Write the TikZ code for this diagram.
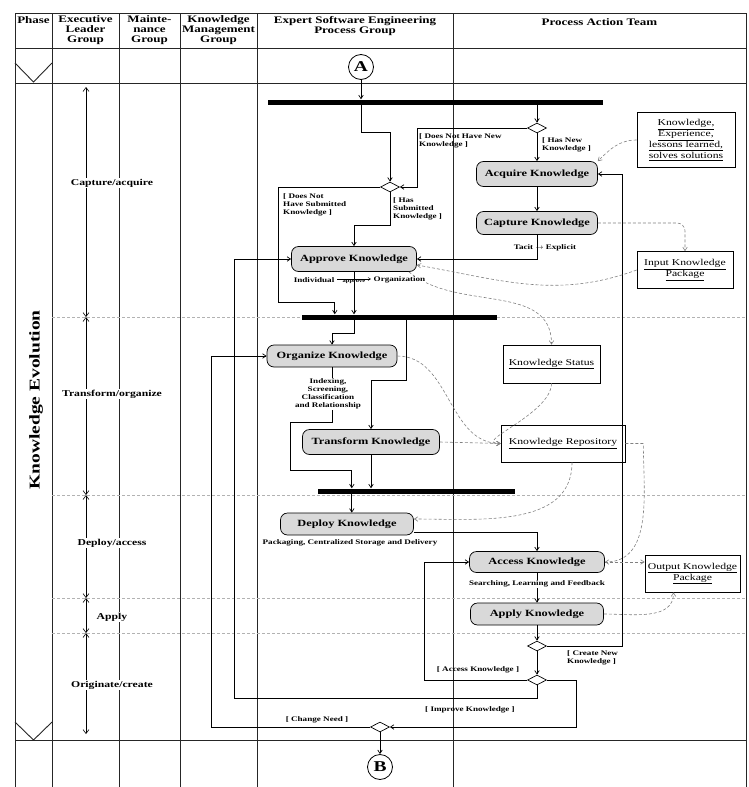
\documentclass[tikz,border=0pt]{standalone}
\usepackage{fontspec}
\setmainfont{Liberation Serif}[FakeStretch=1.3]
\usepackage{amsmath}
\usetikzlibrary{shapes.geometric, arrows.meta, positioning, calc}

\tikzset{
  lane/.style={line width=0.9pt, black!85},
  phaseline/.style={densely dashed, gray!60, line width=0.5pt},
  head/.style={font=\fontsize{10}{10}\selectfont\bfseries, align=center, anchor=north, inner sep=0pt},
  phase/.style={font=\fontsize{9}{10}\selectfont\bfseries, fill=white, inner sep=1pt},
  span/.style={{Straight Barb[length=4pt,width=6pt]}-{Straight Barb[length=4pt,width=6pt]}, line width=0.6pt},
  activity/.style={draw, rounded corners=7pt, fill=gray!30, line width=0.7pt,
    font=\fontsize{9.5}{11}\selectfont\bfseries, inner sep=2pt},
  objbox/.style={draw, line width=0.7pt, fill=white, align=center,
    font=\fontsize{9}{11}\selectfont, inner sep=2pt},
  decision/.style={diamond, draw, fill=white, minimum width=19pt, minimum height=10pt,
    inner sep=0pt, line width=0.7pt},
  bar/.style={fill=black, inner sep=0pt, minimum height=5pt},
  pin/.style={circle, draw, fill=white, line width=0.8pt, minimum size=25pt, inner sep=0pt,
    font=\fontsize{15}{15}\selectfont\bfseries},
  flow/.style={-{Straight Barb[length=3.5pt,width=4.5pt]}, line width=0.7pt},
  objflow/.style={-{Straight Barb[length=3.5pt,width=4.5pt]}, densely dashed, gray, line width=0.6pt},
  guard/.style={font=\fontsize{7}{8}\selectfont\bfseries, align=left, inner sep=0pt},
  note/.style={font=\fontsize{7}{8}\selectfont\bfseries, align=center, inner sep=0.5pt, fill=white},
}

\begin{document}
\begin{tikzpicture}[x=1pt,y=-1pt]
    \useasboundingbox (0,0) rectangle (749,787);

    % Swimlanes
    \foreach \x in {15,52,119,180,257,453,746}
        \draw[lane] (\x,13) -- (\x,787);
    \foreach \y in {13,48,83,740}
        \draw[lane] (15,\y) -- (746,\y);
    \foreach \y in {317,495,598,633}
        \draw[phaseline] (52,\y) -- (746,\y);

    % Lane titles
    \node[head] (hPhase) at (33.5,16) {Phase};
    \node[head] (hExec) at (85.5,15) {Executive\\Leader\\Group};
    \node[head] (hMaint) at (149.5,15) {Mainte-\\nance\\Group};
    \node[head] (hKM) at (218.5,15) {Knowledge\\Management\\Group};
    \node[head] (hExpert) at (355,16) {Expert Software Engineering\\Process Group};
    \node[head] (hPAT) at (599.5,18) {Process Action Team};

    % Phase column
    \draw[lane] (15,63) -- (33.5,82) -- (52,63);
    \draw[lane] (15,722) -- (33.5,740) -- (52,722);
    \node[rotate=90, font=\fontsize{15}{15}\selectfont\bfseries] (evo) at (36,400) {Knowledge Evolution};

    % Executive time line
    \foreach \a/\b in {87/317, 317/495, 495/598, 598/633, 633/734}
        \draw[span] (86,\a) -- (86,\b);
    \foreach \y/\txt [count=\i] in {183/{Capture/acquire}, 394/{Transform/organize}, 543/{Deploy/access}, 617/{Apply}, 685/{Originate/create}}
        \node[phase] (ph\i) at (112,\y) {\txt};

    % Bars, pins and decisions
    \node[pin] (A) at (361,67) {A};
    \node[pin] (B) at (380,767) {B};
    \node[bar, minimum width=335pt] (bar1) at (435.5,102) {};
    \node[bar, minimum width=195pt] (bar2) at (399.5,317) {};
    \node[bar, minimum width=197pt] (bar3) at (416.5,491) {};
    \coordinate (t3) at ($(bar3.west)+(34,0)$);
    \node[decision] (dTop) at (537,128) {};
    \node[decision] (dSub) at (390,187) {};
    \node[decision] (dCreate) at (537,646) {};
    \node[decision] (dAccess) at (537,680) {};
    \node[decision] (dChange) at (380,727) {};

    % Activities
    \node[activity, minimum width=121pt, minimum height=25pt] (acquire) at (537,174) {Acquire Knowledge};
    \node[activity, minimum width=121pt, minimum height=23pt] (capture) at (537,223) {Capture Knowledge};
    \node[activity, minimum width=125pt, minimum height=25pt] (approve) at (354,259) {Approve Knowledge};
    \node[activity, minimum width=130pt, minimum height=22pt] (organize) at (332,356) {Organize Knowledge};
    \node[activity, minimum width=137pt, minimum height=25pt] (transform) at (371,442) {Transform Knowledge};
    \node[activity, minimum width=133pt, minimum height=22pt] (deploy) at (347,524) {Deploy Knowledge};
    \node[activity, minimum width=135pt, minimum height=21pt] (access) at (537,562) {Access Knowledge};
    \node[activity, minimum width=133pt, minimum height=22pt] (apply) at (537,614) {Apply Knowledge};

    % Objects
    \node[objbox, minimum width=98pt, minimum height=55pt] (know) at (686,140)
        {\underline{Knowledge,}\\\underline{Experience,}\\\underline{lessons learned,}\\\underline{solves solutions}};
    \node[objbox, minimum width=96pt, minimum height=37pt] (inpkg) at (685,270)
        {\underline{Input Knowledge}\\\underline{Package}};
    \node[objbox, minimum width=97pt, minimum height=38pt] (status) at (551.5,364) {\underline{Knowledge Status}};
    \node[objbox, minimum width=124pt, minimum height=37pt] (repo) at (563,443.5) {\underline{Knowledge Repository}};
    \node[objbox, minimum width=95pt, minimum height=37pt] (outpkg) at (692.5,573.5)
        {\underline{Output Knowledge}\\\underline{Package}};

    % Control flow
    \draw[flow] (A) -- (A |- bar1.north);
    \draw[flow] (A |- bar1.south) -- ++(0,28) -| (dSub.north);
    \draw[flow] (dTop |- bar1.south) -- (dTop.north);
    \draw[flow] (dTop.west) -| ($(dSub.east)+(17,0)$) -- (dSub.east);
    \draw[flow] (dTop) -- (acquire);
    \draw[flow] (acquire) -- (capture);
    \draw[flow] (capture.south) |- (approve.east);
    \draw[flow] (dSub.south) -- ++(0,33) -| (approve.north);
    \draw[flow] (dSub.west) -| (278,302) -| ($(bar2.north west)+(33,0)$);
    \draw[flow] (approve.south) -- (approve |- bar2.north);
    \draw[flow] (approve |- bar2.south) -- ++(0,14) -| (organize.north);
    \draw[flow] ($(bar2.south west)+(105,0)$) -- ++(0,61) -| (transform.north);
    \draw[flow] (organize.south) -- ++(0,55) -| (290,470) -| (t3 |- bar3.north);
    \draw[flow] (transform.south) -- (transform |- bar3.north);
    \draw[flow] (t3 |- bar3.south) -- (t3 |- deploy.north);
    \draw[flow] ($(deploy.east)+(0,8)$) -| (access.north);
    \draw[flow] (access) -- (apply);
    \draw[flow] (apply) -- (dCreate);
    \draw[flow] (dCreate.east) -| ($(acquire.east)+(24,0)$) -- (acquire.east);
    \draw[flow] (dCreate) -- (dAccess);
    \draw[flow] (dAccess.west) -| ($(access.west)+(-45,0)$) -- (access.west);
    \draw[flow] (dAccess.south) -- ++(0,13) -| ($(approve.west)+(-57,0)$) -- (approve.west);
    \draw[flow] (dAccess.east) -| ($(dChange.east)+(186,0)$) -- (dChange.east);
    \draw[flow] (dChange.west) -| ($(organize.west)+(-55,0)$) -- (organize.west);
    \draw[flow] (dChange) -- (B);

    % Object flow
    \draw[objflow] (know.west) to[out=180,in=45] (acquire.north east);
    \draw[objflow, rounded corners=8pt] (capture.east) -| (inpkg.north);
    \draw[objflow] (inpkg.west) to[out=200,in=-10] ($(approve.east)+(0,6)$);
    \draw[objflow] ($(approve.south east)+(-8,0)$) to[out=-40,in=90] (status.north);
    \draw[objflow] (organize.east) to[out=0,in=180] (repo.west);
    \draw[objflow] (status.south) to[out=-90,in=180] (repo.west);
    \draw[objflow] (transform.east) -- (repo.west);
    \draw[objflow] ($(repo.south)+(9,0)$) to[out=-90,in=0] ($(deploy.east)+(0,-5)$);
    \draw[objflow] (repo.east) -- ++(18,0) to[out=-90,in=0] (access.east);
    \draw[objflow] (access.east) -- (access.east -| outpkg.west);
    \draw[objflow] (apply.east) to[out=0,in=-90] ($(outpkg.south)+(-19,0)$);

    % Guards and notes
    \node[guard, anchor=north west] (gNoNew) at (419,133) {[ Does Not Have New\\Knowledge ]};
    \node[guard, anchor=north west] (gNew) at (542,137) {[ Has New\\Knowledge ]};
    \node[guard, anchor=north west] (gNoSub) at (283,193) {[ Does Not\\Have Submitted\\Knowledge ]};
    \node[guard, anchor=north west] (gSub) at (393,197) {[ Has\\Submitted\\Knowledge ]};
    \node[note, fill=none] (nTacit) at (545,248) {Tacit $\rightarrow$ Explicit};
    \node[note, anchor=east] (nIndiv) at (335,280) {Individual};
    \node[note, anchor=west] (nOrg) at (373,280) {Organization};
    \draw[-{Straight Barb[length=2.5pt,width=3pt]}, line width=0.5pt]
        ($(nIndiv.east)+(2,-1)$) -- node[below=0.5pt, inner sep=0pt, font=\fontsize{5}{5}\selectfont\bfseries] (nAppr) {approve}
        ($(nOrg.west)+(-2,-1)$);
    \node[note] (nIndex) at (328,394) {Indexing,\\Screening,\\Classification\\and Relationship};
    \node[note] (nDeploy) at (350,543) {Packaging, Centralized Storage and Delivery};
    \node[note] (nSearch) at (537,584) {Searching, Learning and Feedback};
    \node[guard, anchor=north west] (gCreate) at (567,650) {[ Create New\\Knowledge ]};
    \node[guard] (gAccess) at (478,670) {[ Access Knowledge ]};
    \node[guard] (gImprove) at (470,710) {[ Improve Knowledge ]};
    \node[guard] (gChange) at (317,720) {[ Change Need ]};
\end{tikzpicture}
\end{document}
